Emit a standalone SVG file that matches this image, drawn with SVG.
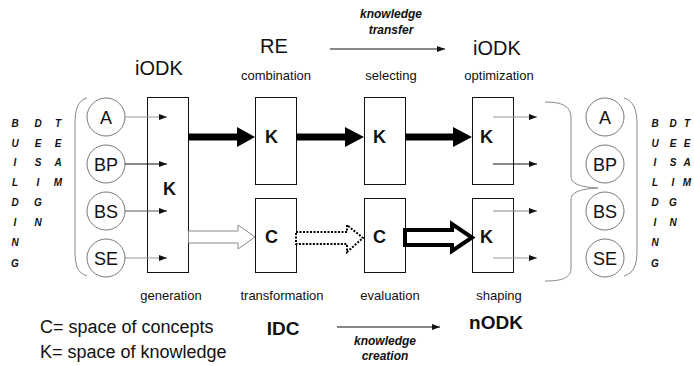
<svg xmlns="http://www.w3.org/2000/svg" width="694" height="366" viewBox="0 0 694 366">
<defs>
<marker id="ah" viewBox="0 0 8 6" refX="8" refY="3" markerWidth="8" markerHeight="6" markerUnits="userSpaceOnUse" orient="auto"><path d="M0,0 L8,3 L0,6 Z" fill="#111"/></marker>
</defs>
<style>
text{font-family:"Liberation Sans",Arial,sans-serif;fill:#111}
.box{fill:#fff;stroke:#111;stroke-width:1}
.circ{fill:#fff;stroke:#777;stroke-width:1}
.cl{font-size:18px;text-anchor:middle}
.kl{font-size:18px;font-weight:bold}
.lab{font-size:13px;text-anchor:middle}
.big{font-size:20px;text-anchor:middle}
.bigb{font-size:19px;font-weight:bold;text-anchor:middle}
.it{font-size:12px;font-weight:bold;font-style:italic;text-anchor:middle}
.vt{font-size:10px;font-weight:bold;font-style:italic;text-anchor:middle}
.leg{font-size:18px}
.brk{fill:none;stroke:#888;stroke-width:1}
</style>

<g id="vtext-left">
<text class="vt" x="15" y="127">B</text><text class="vt" x="15" y="147">U</text><text class="vt" x="15" y="166">I</text><text class="vt" x="15" y="186">L</text><text class="vt" x="15" y="206">D</text><text class="vt" x="15" y="226">I</text><text class="vt" x="15" y="246">N</text><text class="vt" x="15" y="267">G</text>
<text class="vt" x="38" y="127">D</text><text class="vt" x="38" y="147">E</text><text class="vt" x="38" y="166">S</text><text class="vt" x="38" y="186">I</text><text class="vt" x="38" y="206">G</text><text class="vt" x="38" y="226">N</text>
<text class="vt" x="58" y="127">T</text><text class="vt" x="58" y="147">E</text><text class="vt" x="58" y="166">A</text><text class="vt" x="58" y="186">M</text>
</g>
<g id="vtext-right">
<text class="vt" x="655" y="127">B</text><text class="vt" x="655" y="147">U</text><text class="vt" x="655" y="166">I</text><text class="vt" x="655" y="186">L</text><text class="vt" x="655" y="206">D</text><text class="vt" x="655" y="226">I</text><text class="vt" x="655" y="246">N</text><text class="vt" x="655" y="267">G</text>
<text class="vt" x="673" y="127">D</text><text class="vt" x="673" y="147">E</text><text class="vt" x="673" y="166">S</text><text class="vt" x="673" y="186">I</text><text class="vt" x="673" y="206">G</text><text class="vt" x="673" y="226">N</text>
<text class="vt" x="687" y="127">T</text><text class="vt" x="687" y="147">E</text><text class="vt" x="687" y="166">A</text><text class="vt" x="687" y="186">M</text>
</g>

<g id="brackets">
<path class="brk" d="M87,98 C77,101 75,110 75,125 L75,250 C75,265 77,273 87,276"/>
<path class="brk" d="M624,98 C634,101 637,110 637,125 L637,250 C637,265 634,273 624,276"/>
<path class="brk" d="M545,102 C562,102 571,106 571,118 L571,176 C571,184 580,187 598,188"/>
<path class="brk" d="M598,188 C580,189 571,192 571,200 L571,268 C571,278 562,281 545,281"/>
</g>

<g id="left-circles">
<g id="lA"><circle class="circ" cx="106" cy="117" r="19"/><text class="cl" x="106" y="124">A</text></g>
<g id="lBP"><circle class="circ" cx="106" cy="164" r="19"/><text class="cl" x="106" y="171">BP</text></g>
<g id="lBS"><circle class="circ" cx="106" cy="211" r="19"/><text class="cl" x="106" y="218">BS</text></g>
<g id="lSE"><circle class="circ" cx="106" cy="258" r="19"/><text class="cl" x="106" y="265">SE</text></g>
</g>
<g id="right-circles">
<g id="rA"><circle class="circ" cx="605" cy="117" r="19"/><text class="cl" x="605" y="124">A</text></g>
<g id="rBP"><circle class="circ" cx="605" cy="164" r="19"/><text class="cl" x="605" y="171">BP</text></g>
<g id="rBS"><circle class="circ" cx="605" cy="211" r="19"/><text class="cl" x="605" y="218">BS</text></g>
<g id="rSE"><circle class="circ" cx="605" cy="258" r="19"/><text class="cl" x="605" y="265">SE</text></g>
</g>

<g id="boxes">
<g id="K0"><rect class="box" x="147.5" y="97.5" width="41" height="175"/><text class="kl" x="163" y="195">K</text></g>
<g id="K1"><rect class="box" x="255.5" y="97.5" width="41" height="87"/><text class="kl" x="265" y="143">K</text></g>
<g id="C1"><rect class="box" x="255.5" y="198.5" width="41" height="74"/><text class="kl" x="265" y="243">C</text></g>
<g id="K2"><rect class="box" x="364.5" y="97.5" width="41" height="87"/><text class="kl" x="373" y="143">K</text></g>
<g id="C2"><rect class="box" x="364.5" y="198.5" width="41" height="74"/><text class="kl" x="373" y="243">C</text></g>
<g id="K3"><rect class="box" x="472.5" y="97.5" width="41" height="87"/><text class="kl" x="480" y="143">K</text></g>
<g id="K4"><rect class="box" x="472.5" y="198.5" width="41" height="74"/><text class="kl" x="480" y="243">K</text></g>
</g>

<g id="connectors">
<line x1="125" y1="117" x2="167" y2="117" stroke="#999" marker-end="url(#ah)"/>
<line x1="125" y1="164" x2="167" y2="164" stroke="#111" marker-end="url(#ah)"/>
<line x1="125" y1="211" x2="167" y2="211" stroke="#555" marker-end="url(#ah)"/>
<line x1="125" y1="258" x2="167" y2="258" stroke="#999" marker-end="url(#ah)"/>
<line x1="493" y1="117" x2="537" y2="117" stroke="#999" marker-end="url(#ah)"/>
<line x1="493" y1="164" x2="537" y2="164" stroke="#111" marker-end="url(#ah)"/>
<line x1="493" y1="211" x2="537" y2="211" stroke="#888" marker-end="url(#ah)"/>
<line x1="493" y1="258" x2="537" y2="258" stroke="#999" marker-end="url(#ah)"/>
<path d="M188,133.5 L237,133.5 L237,127 L255,137 L237,147 L237,140.5 L188,140.5 Z" fill="#000"/>
<path d="M296,133.5 L345,133.5 L345,127 L364,137 L345,147 L345,140.5 L296,140.5 Z" fill="#000"/>
<path d="M405,133.5 L453,133.5 L453,127 L472,137 L453,147 L453,140.5 L405,140.5 Z" fill="#000"/>
<path d="M188.5,231 L238,231 L238,225 L255,237 L238,249 L238,243 L188.5,243" fill="#fff" stroke="#888" stroke-width="1"/>
<path d="M296,232 L347,232 L347,225 L363,238 L347,252 L347,244 L296,244 Z" fill="#fff" stroke="#000" stroke-width="2" stroke-dasharray="2,1.5"/>
<path d="M405,230 L452,230 L452,224 L472,237.5 L452,251 L452,245 L405,245 Z" fill="#fff" stroke="#000" stroke-width="4" stroke-linejoin="miter"/>
<line x1="330" y1="49" x2="445" y2="49" stroke="#111" marker-end="url(#ah)"/>
<line x1="337" y1="327" x2="440" y2="327" stroke="#111" marker-end="url(#ah)"/>
</g>

<g id="labels">
<text class="big" x="159" y="75">iODK</text>
<text class="big" x="274" y="53">RE</text>
<text class="big" x="497" y="55">iODK</text>
<text class="it" x="391" y="18">knowledge</text>
<text class="it" x="391" y="34">transfer</text>
<text class="lab" x="276" y="80">combination</text>
<text class="lab" x="391" y="80">selecting</text>
<text class="lab" x="499" y="80">optimization</text>
<text class="lab" x="171" y="300">generation</text>
<text class="lab" x="282" y="300">transformation</text>
<text class="lab" x="390" y="300">evaluation</text>
<text class="lab" x="499" y="300">shaping</text>
<text class="leg" x="40" y="333">C= space of concepts</text>
<text class="leg" x="40" y="358">K= space of knowledge</text>
<text class="bigb" x="283" y="335">IDC</text>
<text class="bigb" x="496" y="329">nODK</text>
<text class="it" x="385" y="345">knowledge</text>
<text class="it" x="385" y="360">creation</text>
</g>
</svg>
